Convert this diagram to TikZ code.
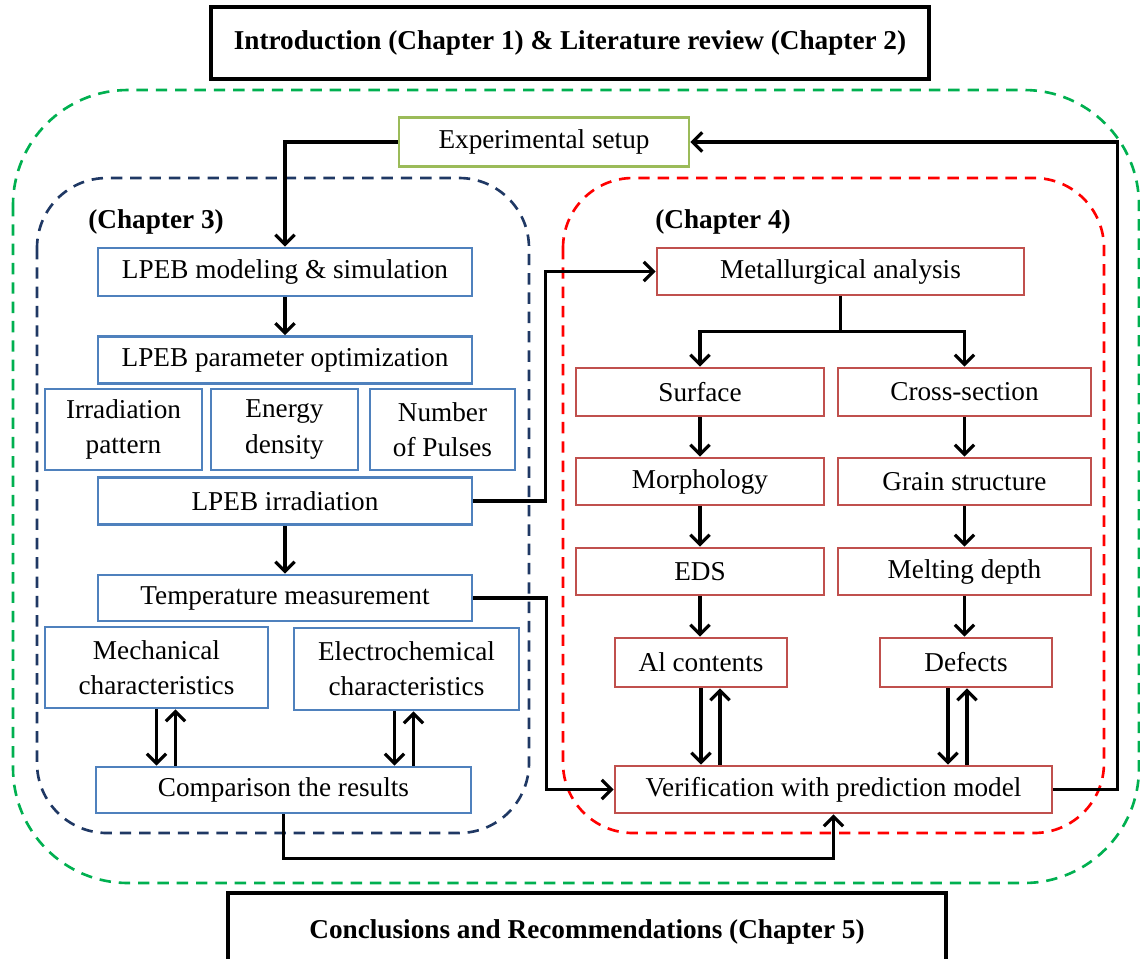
\documentclass[tikz,border=0pt]{standalone}
\usepackage{fontspec}
\setmainfont{Liberation Serif}
\usetikzlibrary{arrows.meta,calc}
\definecolor{boxblue}{HTML}{4F81BD}
\definecolor{boxred}{HTML}{C0504D}
\definecolor{boxgreen}{HTML}{9BBB59}
\definecolor{dashnavy}{HTML}{1F3864}
\definecolor{dashred}{HTML}{FF0000}
\definecolor{dashgreen}{HTML}{00B050}
\begin{document}
\begin{tikzpicture}[x=0.02cm,y=-0.02cm,
  every node/.style={font=\fontsize{15.5}{20}\selectfont, align=center, inner sep=0pt},
  wh/.style 2 args={minimum width=#1*0.02cm, minimum height=#2*0.02cm},
  box/.style={draw, line width=1.5pt, fill=white},
  bbox/.style={box, draw=boxblue},
  rbox/.style={box, draw=boxred},
  gbox/.style={box, draw=boxgreen},
  hbox/.style={draw=black, line width=2pt, fill=white, font=\fontsize{15.5}{19}\selectfont\bfseries},
  chap/.style={anchor=west, font=\fontsize{15.5}{19}\selectfont\bfseries},
  ln/.style={line width=1.8pt},
  arr/.style={ln, -{Straight Barb[length=5.5pt,width=11pt,line width=1.8pt]}},
  dashbox/.style={line width=1.5pt, dash pattern=on 6.5pt off 4.5pt}
]
\useasboundingbox (0,0) rectangle (1140,958);
\clip (0,0) rectangle (1140,958);

% dashed regions
\draw[dashbox, draw=dashgreen, rounded corners=2.3cm] (13,90) rectangle (1139,883);
\draw[dashbox, draw=dashnavy, rounded corners=1.4cm] (37,178) rectangle (529,833);
\draw[dashbox, draw=dashred, rounded corners=1.4cm] (563,178) rectangle (1104,833);

% header boxes
\node[hbox, wh={718}{72}] (intro) at (570,43) {Introduction (Chapter 1) \& Literature review (Chapter 2)};
\node[hbox, wh={718}{78}] (concl) at (587,932) {Conclusions and Recommendations (Chapter 5)};

\node[gbox, wh={290}{49}] (exp) at (544,142) {Experimental setup};

\node[chap] (ch3) at (88,222) {(Chapter 3)};
\node[chap] (ch4) at (655,222) {(Chapter 4)};

% chapter 3
\node[bbox, wh={374}{48}] (lpebmod) at (285,272) {LPEB modeling \& simulation};
\node[bbox, wh={374}{47}] (lpebpar) at (285,360) {LPEB parameter optimization};
\node[bbox, wh={157}{81}] (irr) at (123.5,429.5) {Irradiation\\pattern};
\node[bbox, wh={147}{81}] (energy) at (284.5,429.5) {Energy\\density};
\node[bbox, wh={145}{81}] (pulses) at (442.5,429.5) {Number\\of Pulses};
\node[bbox, wh={374}{47}] (lpebirr) at (285,501) {LPEB irradiation};
\node[bbox, wh={374}{46}] (temp) at (285,598) {Temperature measurement};
\node[bbox, wh={223}{81}] (mech) at (156.5,667.5) {Mechanical\\characteristics};
\node[bbox, wh={225}{82}] (elec) at (406.5,669) {Electrochemical\\characteristics};
\node[bbox, wh={375}{46}] (comp) at (283.5,790) {Comparison the results};

% chapter 4
\node[rbox, wh={367}{47}] (metal) at (840.5,271.5) {Metallurgical analysis};
\node[rbox, wh={248}{48}] (surf) at (700,392) {Surface};
\node[rbox, wh={253}{48}] (cross) at (964.5,392) {Cross-section};
\node[rbox, wh={248}{47}] (morph) at (700,481.5) {Morphology};
\node[rbox, wh={253}{47}] (grain) at (964.5,481.5) {Grain structure};
\node[rbox, wh={248}{47}] (eds) at (700,571.5) {EDS};
\node[rbox, wh={253}{47}] (melt) at (964.5,571.5) {Melting depth};
\node[rbox, wh={172}{49}] (al) at (701,662.5) {Al contents};
\node[rbox, wh={172}{49}] (def) at (966,662.5) {Defects};
\node[rbox, wh={437}{47}] (verif) at (833.5,789.5) {Verification with prediction model};

% connectors chapter 3
\draw[arr] (exp.west) -| (lpebmod.north);
\draw[arr] (lpebmod.south) -- (lpebpar.north);
\draw[arr] (lpebirr.south) -- (temp.north);
\coordinate (mu) at ($(mech.south)+(19,0)$);
\draw[arr] (mech.south) -- (mech.south |- comp.north);
\draw[arr] (mu |- comp.north) -- (mu);
\coordinate (ed) at ($(elec.south)+(-12,0)$);
\coordinate (eu) at ($(elec.south)+(7,0)$);
\draw[arr] (ed) -- (ed |- comp.north);
\draw[arr] (eu |- comp.north) -- (eu);

% cross connectors
\draw[arr] (lpebirr.east) -- ++(72,0) |- (metal.west);
\draw[arr] (temp.east) -- ++(73,0) |- (verif.west);
\draw[arr] (verif.east) -- ++(64,0) |- (exp.east);
\draw[arr] (comp.south) -- ++(0,44) -| (verif.south);

% connectors chapter 4
\draw[ln] (metal.south) -- ++(0,35) coordinate (mj);
\draw[arr] (mj) -| (surf.north);
\draw[arr] (mj) -| (cross.north);
\draw[arr] (surf.south) -- (morph.north);
\draw[arr] (cross.south) -- (grain.north);
\draw[arr] (morph.south) -- (eds.north);
\draw[arr] (grain.south) -- (melt.north);
\draw[arr] (eds.south) -- (eds.south |- al.north);
\draw[arr] (melt.south) -- (melt.south |- def.north);
\coordinate (au) at ($(al.south)+(19,0)$);
\draw[arr] (al.south) -- (al.south |- verif.north);
\draw[arr] (au |- verif.north) -- (au);
\coordinate (dd) at ($(def.south)+(-18,0)$);
\coordinate (du) at ($(def.south)+(1,0)$);
\draw[arr] (dd) -- (dd |- verif.north);
\draw[arr] (du |- verif.north) -- (du);
\end{tikzpicture}
\end{document}
